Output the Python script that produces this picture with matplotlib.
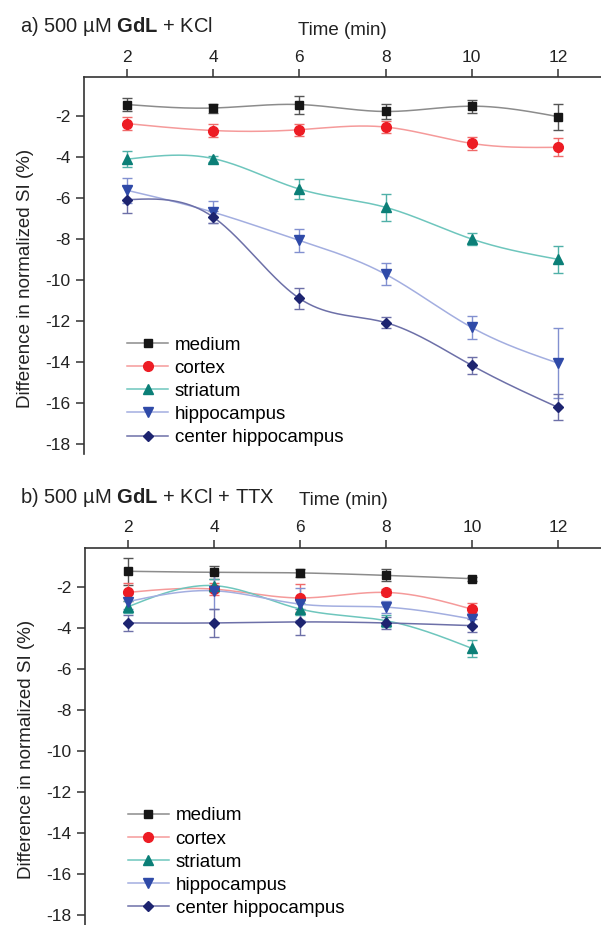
import numpy as np
import matplotlib
matplotlib.use('Agg')
import matplotlib.pyplot as plt

plt.rcParams['font.family'] = ['Liberation Sans', 'DejaVu Sans']
plt.rcParams['mathtext.fontset'] = 'custom'
plt.rcParams['mathtext.rm'] = 'Liberation Sans'
plt.rcParams['mathtext.bf'] = 'Liberation Sans:bold'

# time points (min)
times_a = [2, 4, 6, 8, 10, 12]
times_b = [2, 4, 6, 8, 10]

series_names = ['medium', 'cortex', 'striatum', 'hippocampus', 'center hippocampus']

# panel a: GdL + KCl
medium_a = [-1.43, -1.60, -1.43, -1.77, -1.51, -2.02]
medium_a_err = [0.32, 0.22, 0.44, 0.37, 0.32, 0.64]
cortex_a = [-2.36, -2.70, -2.66, -2.53, -3.33, -3.52]
cortex_a_err = [0.31, 0.30, 0.30, 0.30, 0.30, 0.44]
striatum_a = [-4.10, -4.07, -5.56, -6.45, -8.00, -8.99]
striatum_a_err = [0.40, 0.15, 0.49, 0.67, 0.28, 0.66]
hippo_a = [-5.62, -6.69, -8.07, -9.72, -12.32, -14.06]
hippo_a_err = [0.60, 0.53, 0.57, 0.53, 0.55, 1.70]
center_a = [-6.08, -6.93, -10.90, -12.08, -14.17, -16.22]
center_a_err = [0.65, 0.30, 0.53, 0.28, 0.42, 0.63]

# panel b: GdL + KCl + TTX
medium_b = [-1.25, -1.30, -1.33, -1.45, -1.61]
medium_b_err = [0.65, 0.33, 0.20, 0.29, 0.10]
cortex_b = [-2.28, -2.12, -2.55, -2.28, -3.10]
cortex_b_err = [0.44, 0.30, 0.68, 0.15, 0.30]
striatum_b = [-2.98, -1.95, -3.09, -3.66, -5.01]
striatum_b_err = [0.30, 0.30, 0.30, 0.30, 0.40]
hippo_b = [-2.73, -2.20, -2.85, -3.00, -3.58]
hippo_b_err = [0.35, 0.88, 0.80, 0.28, 0.30]
center_b = [-3.77, -3.77, -3.72, -3.77, -3.90]
center_b_err = [0.37, 0.67, 0.62, 0.30, 0.30]

# marker, marker size, marker colour, line colour, error bar colour
styles = [
    ('s', 6.0, '#161616', '#8c8c8c', '#555555'),
    ('o', 7.0, '#ed1c24', '#f59a9a', '#f06a6a'),
    ('^', 7.5, '#0b7f77', '#6ec6bd', '#4fb0a8'),
    ('v', 7.5, '#2f4aa8', '#a3aee0', '#8290d0'),
    ('D', 5.5, '#1d2470', '#6d70a8', '#6d70a8'),
]

FS = 13.5
SPINE = '#333333'


def natural_spline(x, y, num=300):
    x = np.asarray(x, float)
    y = np.asarray(y, float)
    n = len(x)
    h = np.diff(x)
    A = np.zeros((n, n))
    r = np.zeros(n)
    A[0, 0] = 1
    A[-1, -1] = 1
    for i in range(1, n - 1):
        A[i, i - 1] = h[i - 1]
        A[i, i] = 2 * (h[i - 1] + h[i])
        A[i, i + 1] = h[i]
        r[i] = 6 * ((y[i + 1] - y[i]) / h[i] - (y[i] - y[i - 1]) / h[i - 1])
    M = np.linalg.solve(A, r)
    xs = np.linspace(x[0], x[-1], num)
    idx = np.clip(np.searchsorted(x, xs) - 1, 0, n - 2)
    x0, x1 = x[idx], x[idx + 1]
    hh = x1 - x0
    t0, t1 = x1 - xs, xs - x0
    ys = ((M[idx] * t0 ** 3 + M[idx + 1] * t1 ** 3) / (6 * hh)
          + (y[idx] / hh - M[idx] * hh / 6) * t0
          + (y[idx + 1] / hh - M[idx + 1] * hh / 6) * t1)
    return xs, ys


def draw_panel(ax, times, values, errors, title, top_px):
    handles = []
    for vals, errs, (mk, ms, mc, lc, ec) in zip(values, errors, styles):
        ax.errorbar(times, vals, yerr=errs, fmt='none', ecolor=ec,
                    elinewidth=1.0, capsize=3.5, capthick=1.0, zorder=2)
        xs, ys = natural_spline(times, vals)
        line, = ax.plot(xs, ys, color=lc, lw=1.1, zorder=3)
        pts, = ax.plot(times, vals, linestyle='none', marker=mk, ms=ms,
                       color=mc, mec=mc, zorder=4)
        handles.append((line, pts))

    ax.set_xlim(1, 13)
    ax.set_ylim(-18.5, -0.1)
    ax.set_xticks([2, 4, 6, 8, 10, 12])
    ax.set_yticks(np.arange(-2, -19, -2))
    ax.set_yticklabels([str(v) for v in range(-2, -19, -2)])
    ax.xaxis.tick_top()
    for side in ['right', 'bottom']:
        ax.spines[side].set_visible(False)
    for side in ['top', 'left']:
        ax.spines[side].set_color(SPINE)
        ax.spines[side].set_linewidth(1.2)
    ax.tick_params(direction='out', length=6, width=1.1, color=SPINE,
                   labelsize=12.5, labelcolor='#222222')
    ax.tick_params(axis='x', pad=3)
    ax.tick_params(axis='y', pad=3.5)

    ax.xaxis.set_label_position('top')
    ax.set_xlabel('Time (min)', fontsize=FS, color='#222222')
    ax.xaxis.label.set_va('center')
    ax.xaxis.set_label_coords(0.5, 1.124)

    ax.set_ylabel('Difference in normalized SI (%)', fontsize=FS,
                  color='#222222', ha='left', va='center')
    ax.yaxis.set_label_coords(-0.114, 0.122)

    ax.legend(handles, series_names, loc='upper left',
              bbox_to_anchor=(0.083, 0.312), frameon=False, borderpad=0,
              borderaxespad=0, handlelength=2.2, handletextpad=0.35,
              labelspacing=0.32, fontsize=FS)

    fig.text(20 / 601, 1 - (top_px - 45) / 925, title, fontsize=14.5,
             color='#222222', ha='left', va='baseline')


fig = plt.figure(figsize=(6.01, 9.25), dpi=100)
ax_a = fig.add_axes([84 / 601, 1 - 454 / 925, 517 / 601, 376.7 / 925])
ax_b = fig.add_axes([85 / 601, 0, 516 / 601, 377.3 / 925])

draw_panel(ax_a, times_a,
           [medium_a, cortex_a, striatum_a, hippo_a, center_a],
           [medium_a_err, cortex_a_err, striatum_a_err, hippo_a_err, center_a_err],
           r'a) 500 µM $\mathbf{GdL}$ + KCl', 77.3)
draw_panel(ax_b, times_b,
           [medium_b, cortex_b, striatum_b, hippo_b, center_b],
           [medium_b_err, cortex_b_err, striatum_b_err, hippo_b_err, center_b_err],
           r'b) 500 µM $\mathbf{GdL}$ + KCl + TTX', 547.7)

fig.savefig('out.png', dpi=100)
plt.close(fig)
